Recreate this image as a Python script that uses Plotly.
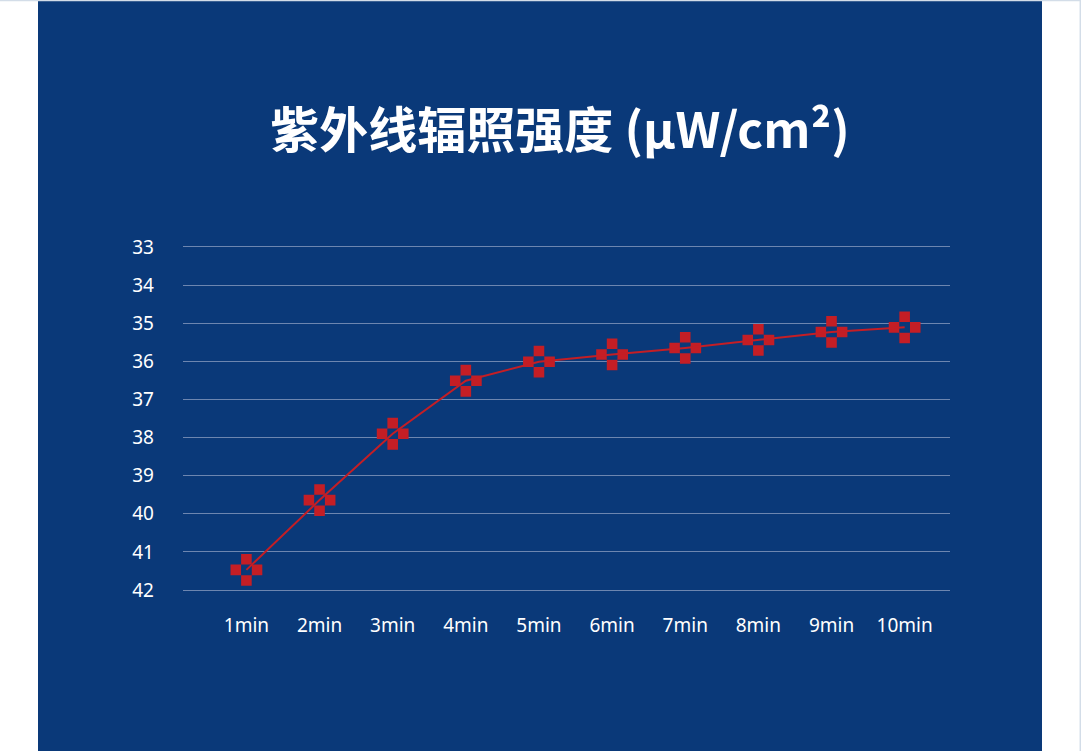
import plotly.graph_objects as go

# data
minutes = ["1min", "2min", "3min", "4min", "5min", "6min", "7min", "8min", "9min", "10min"]
uv_values = [41.47, 39.64, 37.90, 36.51, 36.01, 35.82, 35.65, 35.44, 35.23, 35.11]
y_ticks = [33, 34, 35, 36, 37, 38, 39, 40, 41, 42]

panel_color = "#0a3979"
red = "#c41e25"

W, H = 1081, 751
pad = 0.05 * 38.1  # small extra so the 33 / 42 gridlines are drawn
plot_l, plot_r = 183, 950
plot_t, plot_b = 247 - pad, 590 + pad
pw, ph = plot_r - plot_l, plot_b - plot_t

fig = go.Figure()

# cross shaped marker
fig.add_trace(go.Scatter(
    x=minutes, y=uv_values,
    mode="markers",
    marker=dict(symbol="cross", size=26.5, color=red, line=dict(width=0)),
    cliponaxis=False,
    hoverinfo="skip"
))

# hollow centre of the marker
fig.add_trace(go.Scatter(
    x=minutes, y=uv_values,
    mode="markers",
    marker=dict(symbol="square", size=9.5, color=panel_color,
                line=dict(color=panel_color, width=1.2)),
    cliponaxis=False,
    hoverinfo="skip"
))

# connecting line
fig.add_trace(go.Scatter(
    x=minutes, y=uv_values,
    mode="lines",
    line=dict(color=red, width=2),
    cliponaxis=False,
    hoverinfo="skip"
))

# blue panel behind the chart
fig.add_shape(
    type="rect", xref="paper", yref="paper",
    x0=(38 - plot_l) / pw, x1=(1042 - plot_l) / pw,
    y0=(plot_b - H - 5) / ph, y1=(plot_b + 5) / ph,
    fillcolor=panel_color, line=dict(width=0), layer="below"
)
# light edges at top and right of the page
fig.add_shape(
    type="line", xref="paper", yref="paper",
    x0=(0 - plot_l) / pw, x1=(W - plot_l) / pw,
    y0=(plot_b - 0.7) / ph, y1=(plot_b - 0.7) / ph,
    line=dict(color="#d3dde8", width=1.5), layer="above"
)
fig.add_shape(
    type="line", xref="paper", yref="paper",
    x0=(W - 0.7 - plot_l) / pw, x1=(W - 0.7 - plot_l) / pw,
    y0=(plot_b - H) / ph, y1=plot_b / ph,
    line=dict(color="#d3dde8", width=1.5), layer="above"
)

fig.update_layout(
    width=W, height=H,
    showlegend=False,
    paper_bgcolor="white",
    plot_bgcolor=panel_color,
    margin=dict(l=plot_l, r=W - plot_r, t=plot_t, b=H - plot_b, pad=0),
    title=dict(
        text="<b>紫外线辐照强度 (μW/cm²)</b>",
        x=560 / W, xanchor="center",
        y=1 - 131 / H, yanchor="middle",
        font=dict(family="Noto Sans CJK SC", size=49, color="white")
    ),
    xaxis=dict(
        type="category",
        range=[-0.867, 9.62],
        showgrid=False, zeroline=False, showline=False,
        ticks="", ticklabelstandoff=20,
        tickfont=dict(family="Noto Sans", size=19, color="white")
    ),
    yaxis=dict(
        range=[42.05, 32.95],
        tickvals=y_ticks,
        showgrid=True, gridcolor="#6d86b0", gridwidth=1,
        zeroline=False, showline=False,
        ticks="", ticklabelstandoff=28,
        tickfont=dict(family="Noto Sans", size=19, color="white")
    )
)

fig.write_html("out.html", config={"displayModeBar": False},
               post_script="document.body.style.margin='0';")
